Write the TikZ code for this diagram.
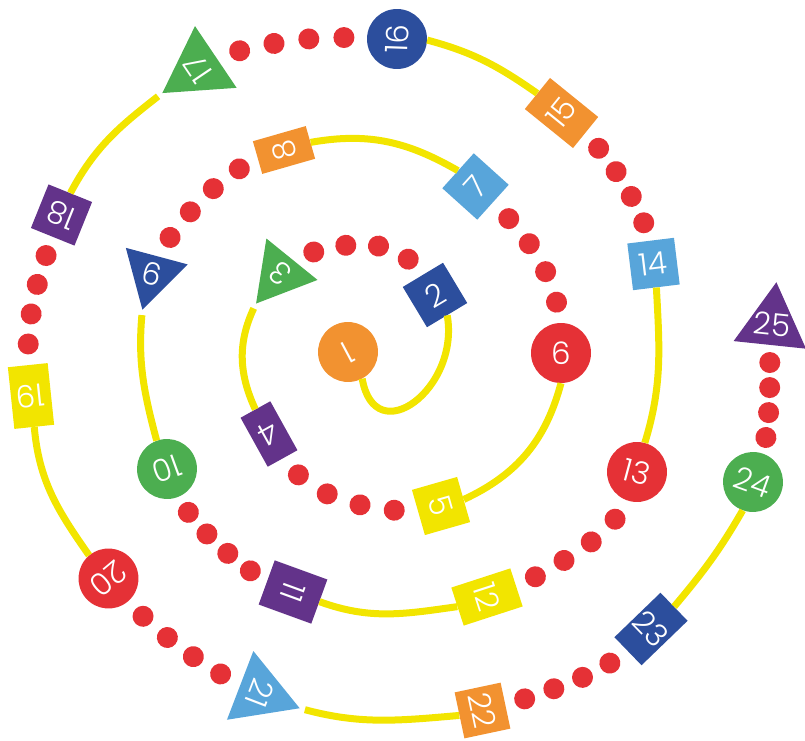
\documentclass[tikz,border=0pt]{standalone}
\usepackage{fontspec}
\setmainfont{Poppins Light}
\usetikzlibrary{shapes.geometric,decorations.markings}
\definecolor{TrackYellow}{RGB}{242,229,0}
\definecolor{SpotRed}{RGB}{229,49,54}
\definecolor{SpotOrange}{RGB}{242,146,48}
\definecolor{SpotNavy}{RGB}{44,78,157}
\definecolor{SpotSky}{RGB}{88,165,218}
\definecolor{SpotPurple}{RGB}{99,51,138}
\definecolor{SpotGreen}{RGB}{76,174,80}
\tikzset{
  spot/.style={inner sep=0pt,text=white,font=\fontsize{31}{31}\selectfont},
  disc/.style={spot,circle,minimum size=60pt},
  tile/.style={spot,rectangle,minimum width=47pt,minimum height=47pt},
  slab/.style={spot,rectangle,minimum width=40pt,minimum height=62pt},
  tri/.style={spot,regular polygon,regular polygon sides=3,inner sep=-8pt,minimum size=#1},
  track/.style={TrackYellow,line width=7pt},
  dots/.style={decoration={markings,mark=between positions 0.15 and 0.86 step 0.23 with {\fill[SpotRed] (0,0) circle (10.5pt);}},postaction={decorate}},
}
\newcommand{\putspot}[5]{%
  \node[#1,fill=#2,rotate=#3] (n#4) at (#5) {#4};}

\begin{document}
\begin{tikzpicture}[x=1pt,y=1pt]
  \useasboundingbox (0,0) rectangle (805,740);
  \putspot{disc}{SpotOrange}{-152}{1}{348,388}
  \putspot{tile}{SpotNavy}{31}{2}{435,445}
  \putspot{tri=76pt}{SpotGreen}{141}{3}{280,466}
  \putspot{slab,minimum width=34pt,minimum height=56pt}{SpotPurple}{-151}{4}{269,306}
  \putspot{tile}{TrackYellow}{-74}{5}{441,234}
  \putspot{disc}{SpotRed}{0}{6}{561,387}
  \putspot{tile}{SpotSky}{48}{7}{475.5,553.5}
  \putspot{slab,minimum width=34pt,minimum height=55pt}{SpotOrange}{106}{8}{284,590}
  \putspot{tri=74pt}{SpotNavy}{165}{9}{152,466}
  \putspot{disc}{SpotGreen}{-160}{10}{167,271}
  \putspot{slab,minimum width=47pt,minimum height=56pt}{SpotPurple}{-110}{11}{293,148}
  \putspot{slab}{TrackYellow}{-72}{12}{487,143}
  \putspot{disc}{SpotRed}{-15}{13}{637,268}
  \putspot{tile}{SpotSky}{7}{14}{653.5,476}
  \putspot{slab}{SpotOrange}{51}{15}{561.5,627}
  \putspot{disc}{SpotNavy}{88}{16}{397,701}
  \putspot{tri=86pt}{SpotGreen}{124}{17}{198,671}
  \putspot{tile}{SpotPurple}{158}{18}{61.5,525}
  \putspot{slab}{TrackYellow}{186}{19}{31,344}
  \putspot{disc}{SpotRed}{-140}{20}{108.5,161.5}
  \putspot{tri=85pt}{SpotSky}{-111}{21}{260,47}
  \putspot{tile}{SpotOrange}{-78}{22}{482.5,29.5}
  \putspot{slab,minimum width=39pt,minimum height=64pt}{SpotNavy}{-46}{23}{651,111}
  \putspot{disc}{SpotGreen}{-20}{24}{753,258}
  \putspot{tri=84pt}{SpotPurple}{-6}{25}{772,416}

  \draw[track] (n1.north) to[out=-80,in=-80,looseness=1.8] (n2.south);
  \path[dots] (n2.north) to[out=125,in=20] (n3.south);
  \draw[track,shorten <=5pt] (n3.north) to[out=245,in=115] (n4.south);
  \path[dots] (n4.north) to[out=-50,in=175] (n5.south);
  \draw[track] (n5.north) to[out=25,in=255] (n6.south);
  \path[dots] (n6.north) to[out=100,in=-45] (n7.south);
  \draw[track] (n7.north) to[out=150,in=10] (n8.south);
  \path[dots] (n8.north) to[out=210,in=55] (n9.south);
  \draw[track,shorten <=5pt] (n9.north) to[out=265,in=105] (n10.south);
  \path[dots] (n10.north) to[out=-55,in=145] (n11.south);
  \draw[track] (n11.north) to[out=-20,in=188] (n12.south);
  \path[dots] (n12.north) to[out=30,in=235] (n13.south);
  \draw[track] (n13.north) to[out=73,in=-87] (n14.south);
  \path[dots] (n14.north) to[out=110,in=-50] (n15.south);
  \draw[track] (n15.north) to[out=145,in=-15] (n16.south);
  \path[dots] (n16.north) to[out=178,in=15] (n17.south);
  \draw[track,shorten <=5pt] (n17.north) to[out=218,in=62] (n18.south);
  \path[dots] (n18.north) to[out=250,in=90] (n19.south);
  \draw[track] (n19.north) to[out=-85,in=125] (n20.south);
  \path[dots] (n20.north) to[out=-45,in=150] (n21.south);
  \draw[track,shorten <=5pt] (n21.north) to[out=-15,in=185] (n22.south);
  \path[dots] (n22.north) to[out=20,in=215] (n23.south);
  \draw[track] (n23.north) to[out=50,in=240] (n24.south);
  \path[dots] (n24.north) to[out=80,in=-90] (n25.south);
\end{tikzpicture}
\end{document}
